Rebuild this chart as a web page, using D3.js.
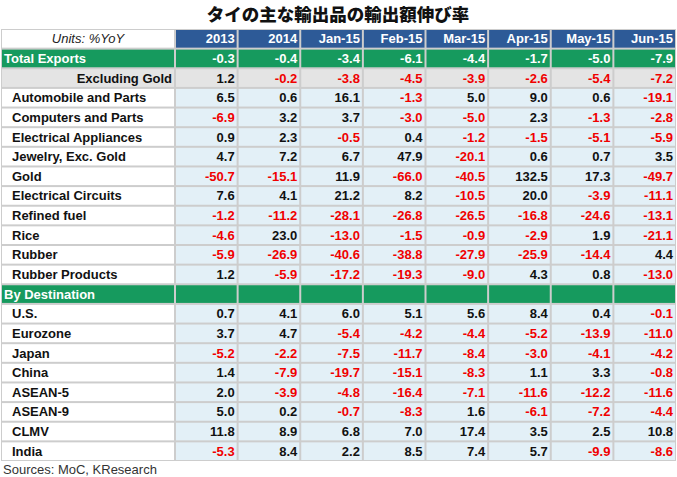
<!DOCTYPE html>
<html><head><meta charset="utf-8">
<script src="https://cdn.jsdelivr.net/npm/d3@7"></script>
<style>body{margin:0;background:#fff;}svg{display:block;}</style>
</head><body>
<svg id="c" width="677" height="477"></svg>
<script>
const title = "タイの主な輸出品の輸出額伸び率";
const unitsLabel = "Units: %YoY";
const source = "Sources: MoC, KResearch";
const columns = ["2013","2014","Jan-15","Feb-15","Mar-15","Apr-15","May-15","Jun-15"];
// row types: total, excl, item, section
const rowLabels = ["Total Exports","Excluding Gold","Automobile and Parts","Computers and Parts","Electrical Appliances","Jewelry, Exc. Gold","Gold","Electrical Circuits","Refined fuel","Rice","Rubber","Rubber Products","By Destination","U.S.","Eurozone","Japan","China","ASEAN-5","ASEAN-9","CLMV","India"];
const rowTypes = ["total","excl","item","item","item","item","item","item","item","item","item","item","section","item","item","item","item","item","item","item","item"];
const totalExports = [-0.3,-0.4,-3.4,-6.1,-4.4,-1.7,-5.0,-7.9];
const excludingGold = [1.2,-0.2,-3.8,-4.5,-3.9,-2.6,-5.4,-7.2];
const automobile = [6.5,0.6,16.1,-1.3,5.0,9.0,0.6,-19.1];
const computers = [-6.9,3.2,3.7,-3.0,-5.0,2.3,-1.3,-2.8];
const electricalAppliances = [0.9,2.3,-0.5,0.4,-1.2,-1.5,-5.1,-5.9];
const jewelry = [4.7,7.2,6.7,47.9,-20.1,0.6,0.7,3.5];
const gold = [-50.7,-15.1,11.9,-66.0,-40.5,132.5,17.3,-49.7];
const electricalCircuits = [7.6,4.1,21.2,8.2,-10.5,20.0,-3.9,-11.1];
const refinedFuel = [-1.2,-11.2,-28.1,-26.8,-26.5,-16.8,-24.6,-13.1];
const rice = [-4.6,23.0,-13.0,-1.5,-0.9,-2.9,1.9,-21.1];
const rubber = [-5.9,-26.9,-40.6,-38.8,-27.9,-25.9,-14.4,4.4];
const rubberProducts = [1.2,-5.9,-17.2,-19.3,-9.0,4.3,0.8,-13.0];
const byDestination = [null,null,null,null,null,null,null,null];
const us = [0.7,4.1,6.0,5.1,5.6,8.4,0.4,-0.1];
const eurozone = [3.7,4.7,-5.4,-4.2,-4.4,-5.2,-13.9,-11.0];
const japan = [-5.2,-2.2,-7.5,-11.7,-8.4,-3.0,-4.1,-4.2];
const china = [1.4,-7.9,-19.7,-15.1,-8.3,1.1,3.3,-0.8];
const asean5 = [2.0,-3.9,-4.8,-16.4,-7.1,-11.6,-12.2,-11.6];
const asean9 = [5.0,0.2,-0.7,-8.3,1.6,-6.1,-7.2,-4.4];
const clmv = [11.8,8.9,6.8,7.0,17.4,3.5,2.5,10.8];
const india = [-5.3,8.4,2.2,8.5,7.4,5.7,-9.9,-8.6];
const values = [totalExports,excludingGold,automobile,computers,electricalAppliances,jewelry,gold,electricalCircuits,refinedFuel,rice,rubber,rubberProducts,byDestination,us,eurozone,japan,china,asean5,asean9,clmv,india];

const svg = d3.select("#c");
const font = "'Liberation Sans', Arial, sans-serif";
const C = {blue:"#2D5A97", green:"#169A5E", gray:"#E4E4E4", light:"#E3F0F7", grid:"#CDCDCD", red:"#F00000", text:"#111"};

svg.append("text").attr("x",338).attr("y",21).attr("text-anchor","middle")
  .attr("font-family","'Noto Sans CJK JP', sans-serif").attr("font-weight",900)
  .attr("font-size",17.5).attr("fill","#111").text(title);

const labelX0 = 1, labelX1 = 175;
const x = d3.scaleBand().domain(columns).range([175, 676]);
const rowIds = ["header"].concat(rowLabels);
const y = d3.scaleBand().domain(rowIds).range([29, 461]);

// grid background
svg.append("rect").attr("x",labelX0).attr("y",29).attr("width",676-labelX0).attr("height",461-29).attr("fill",C.grid);

const g = svg.append("g");
// header
g.append("rect").attr("x",labelX0+1).attr("y",y("header")+1).attr("width",labelX1-labelX0-2).attr("height",y.bandwidth()-2).attr("fill","#fff");
g.append("text").attr("x",(labelX0+labelX1)/2).attr("y",y("header")+y.bandwidth()/2+4.5).attr("text-anchor","middle")
  .attr("font-family",font).attr("font-style","italic").attr("font-size",13).attr("fill","#222").text(unitsLabel);
columns.forEach(c=>{
  g.append("rect").attr("x",x(c)+1).attr("y",y("header")+1).attr("width",x.bandwidth()-2).attr("height",y.bandwidth()-2).attr("fill",C.blue);
  g.append("text").attr("x",x(c)+x.bandwidth()-3).attr("y",y("header")+y.bandwidth()/2+4.5).attr("text-anchor","end")
    .attr("font-family",font).attr("font-weight","bold").attr("font-size",13).attr("fill","#fff").text(c);
});

rowLabels.forEach((lab,i)=>{
  const t = rowTypes[i];
  const ry = y(lab), rh = y.bandwidth();
  const green = (t==="total"||t==="section");
  const labFill = green ? C.green : (t==="excl" ? C.gray : "#fff");
  const cellFill = green ? C.green : (t==="excl" ? C.gray : C.light);
  g.append("rect").attr("x",labelX0+1).attr("y",ry+1).attr("width",labelX1-labelX0-2).attr("height",rh-2).attr("fill",labFill);
  const lt = g.append("text").attr("y",ry+rh/2+4.5).attr("font-family",font).attr("font-weight","bold").attr("font-size",13)
    .attr("fill", green ? "#fff" : C.text).text(lab);
  if (t==="excl") lt.attr("x",labelX1-3).attr("text-anchor","end");
  else if (green) lt.attr("x",4);
  else lt.attr("x",12);
  columns.forEach((c,j)=>{
    g.append("rect").attr("x",x(c)+1).attr("y",ry+1).attr("width",x.bandwidth()-2).attr("height",rh-2).attr("fill",cellFill);
    const v = values[i][j];
    if (v===null) return;
    g.append("text").attr("x",x(c)+x.bandwidth()-3).attr("y",ry+rh/2+4.5).attr("text-anchor","end")
      .attr("font-family",font).attr("font-weight","bold").attr("font-size",13)
      .attr("fill", green ? "#fff" : (v<0 ? C.red : C.text)).text(d3.format(".1f")(v).replace("−","-"));
  });
});

svg.append("text").attr("x",3).attr("y",474).attr("font-family",font).attr("font-size",13).attr("fill","#333").text(source);
</script>
</body></html>
